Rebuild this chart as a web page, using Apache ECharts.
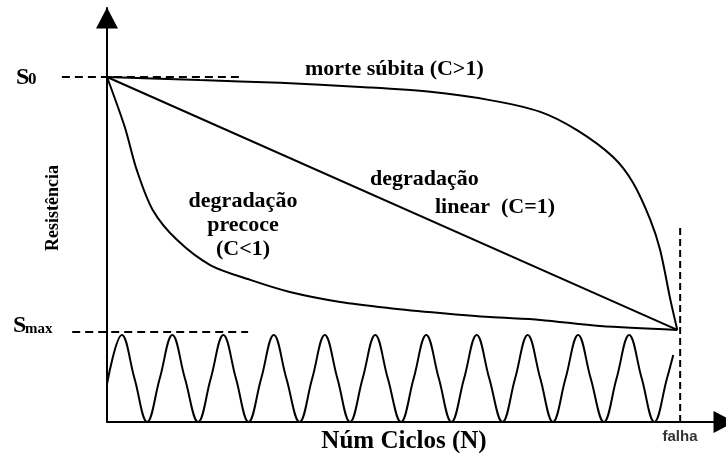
<!DOCTYPE html>
<html>
<head>
<meta charset="utf-8">
<script src="https://cdn.jsdelivr.net/npm/echarts@6/dist/echarts.min.js"></script>
<style>
  html, body { margin: 0; padding: 0; background: #fff; }
  #chart { width: 726px; height: 453px; }
</style>
</head>
<body>
<div id="chart"></div>
<script>
// eixos: N em % do numero de ciclos ate a falha, S em % de S0
const xMax = 108
const yMax = 120
// eixo auxiliar (largura toda) so para as linhas tracejadas
const guideXMin = -18.7

// degradacao linear (C=1)
const linearN = [0, 99.5]
const linearS = [100, 26.7]

// morte subita (C>1)
const suddenN = [0, 16.2, 30.2, 44.2, 56.4, 66.8, 75.6, 82.0, 88.3, 91.8, 94.8, 96.5, 98.3, 99.5]
const suddenS = [100, 99.1, 98.3, 97.1, 95.7, 93.3, 89.9, 84.6, 76.8, 69.3, 58.6, 49.9, 35.4, 26.7]

// degradacao precoce (C<1)
const earlyN = [0, 3.1, 5.2, 8.0, 12.2, 18.0, 25.0, 31.9, 40.7, 49.4, 58.1, 66.8, 75.6, 86.0, 99.5]
const earlyS = [100, 85.5, 73.0, 61.4, 52.8, 45.5, 41.2, 37.7, 34.8, 33.0, 31.6, 30.4, 29.6, 27.8, 26.7]

// carregamento ciclico
const loadN = [0,
  2.6, 4.8, 7.0, 9.2, 11.4, 13.6, 15.9, 18.1, 20.3, 22.5, 24.7, 26.9,
  29.1, 31.3, 33.6, 35.8, 38.0, 40.2, 42.4, 44.6, 46.8, 49.0, 51.3, 53.5,
  55.7, 57.9, 60.1, 62.3, 64.5, 66.7, 69.0, 71.2, 73.4, 75.6, 77.8, 80.0,
  82.2, 84.4, 86.7, 88.9, 91.1, 93.3, 95.5, 97.7,
  98.8]
const loadS = [11,
  25.2, 12.6, 0, 12.6, 25.2, 12.6, 0, 12.6, 25.2, 12.6, 0, 12.6,
  25.2, 12.6, 0, 12.6, 25.2, 12.6, 0, 12.6, 25.2, 12.6, 0, 12.6,
  25.2, 12.6, 0, 12.6, 25.2, 12.6, 0, 12.6, 25.2, 12.6, 0, 12.6,
  25.2, 12.6, 0, 12.6, 25.2, 12.6, 0, 12.6,
  19.4]

// linhas de referencia
const s0GuideN = [-7.9, 23.2]
const s0GuideS = [100, 100]
const smaxGuideN = [-6.1, 24.6]
const smaxGuideS = [26.1, 26.1]
const failGuideN = [100, 100]
const failGuideS = [0, 57.1]

const zip = (xs, ys) => xs.map((x, i) => [x, ys[i]])

const serif = 'Liberation Serif'
const chartDom = echarts.init(document.getElementById('chart'))

const axisCommon = {
  type: 'value',
  min: 0,
  axisLine: {
    show: true,
    symbol: ['none', 'triangle'],
    symbolSize: [22, 21],
    symbolOffset: [0, -10],
    lineStyle: { color: '#000', width: 2 }
  },
  axisTick: { show: false },
  axisLabel: { show: false },
  splitLine: { show: false }
}

const hiddenAxis = {
  type: 'value',
  gridIndex: 1,
  show: false,
  splitLine: { show: false }
}

const curve = (data, smooth) => ({
  type: 'line',
  data: data,
  smooth: smooth,
  symbol: 'none',
  lineStyle: { color: '#000', width: 2 }
})

const guide = (data, dash) => ({
  type: 'line',
  xAxisIndex: 1,
  yAxisIndex: 1,
  data: data,
  symbol: 'none',
  clip: false,
  lineStyle: { color: '#000', width: 2, type: dash }
})

const text = (x, y, str, size, extra) => ({
  type: 'text',
  x: x,
  y: y,
  style: Object.assign({
    text: str,
    font: 'bold ' + size + 'px "' + serif + '"',
    fill: '#000',
    textAlign: 'left',
    textVerticalAlign: 'middle'
  }, extra || {})
})

const option = {
  animation: false,
  grid: [
    { left: 107, right: 0, top: 8, bottom: 31 },
    { left: 0, right: 0, top: 8, bottom: 31 }
  ],
  xAxis: [
    Object.assign({}, axisCommon, {
      max: xMax,
      axisLine: Object.assign({}, axisCommon.axisLine, { symbolOffset: [0, -2] })
    }),
    Object.assign({}, hiddenAxis, { min: guideXMin, max: xMax })
  ],
  yAxis: [
    Object.assign({}, axisCommon, { max: yMax }),
    Object.assign({}, hiddenAxis, { min: 0, max: yMax })
  ],
  series: [
    curve(zip(linearN, linearS), false),
    curve(zip(suddenN, suddenS), 0.3),
    curve(zip(earlyN, earlyS), 0.3),
    curve(zip(loadN, loadS), 0.4),
    guide(zip(s0GuideN, s0GuideS), [8, 5]),
    guide(zip(smaxGuideN, smaxGuideS), [8, 5]),
    guide(zip(failGuideN, failGuideS), [7, 4])
  ],
  graphic: [
    text(16, 78, 'S', 24),
    text(28, 80, '0', 17),
    text(13, 326, 'S', 24),
    text(25, 329, 'max', 15),
    text(305, 69, 'morte súbita (C>1)', 22),
    text(243, 189, 'degradação\nprecoce\n(C<1)', 22, { textAlign: 'center', lineHeight: 24, textVerticalAlign: 'top' }),
    text(370, 179, 'degradação', 22),
    text(435, 207, 'linear  (C=1)', 22),
    text(404, 442, 'Núm Ciclos (N)', 25, { textAlign: 'center' }),
    {
      type: 'text',
      x: 53,
      y: 208,
      rotation: Math.PI / 2,
      style: {
        text: 'Resistência',
        font: 'bold 18px "' + serif + '"',
        fill: '#000',
        textAlign: 'center',
        textVerticalAlign: 'middle'
      }
    },
    {
      type: 'text',
      x: 680,
      y: 437,
      style: {
        text: 'falha',
        font: 'bold 15px "Liberation Sans"',
        fill: '#333',
        textAlign: 'center',
        textVerticalAlign: 'middle'
      }
    }
  ]
}

chartDom.setOption(option)
</script>
</body>
</html>
